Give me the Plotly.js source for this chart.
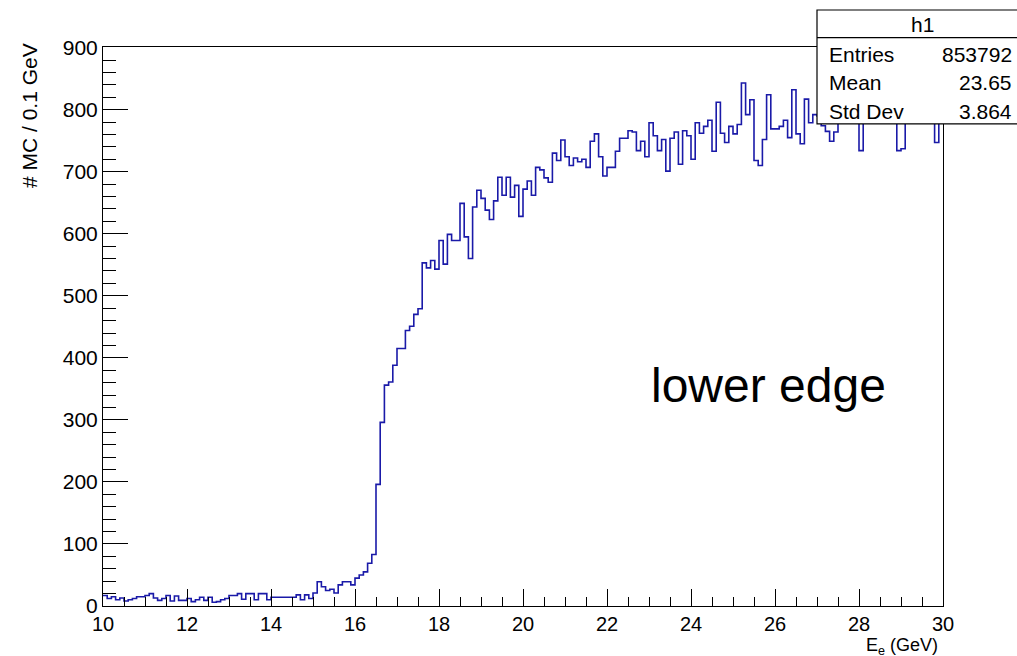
<!DOCTYPE html>
<html>
<head>
<meta charset="utf-8">
<script src="https://cdn.plot.ly/plotly-3.0.1.min.js"></script>
<style>html,body{margin:0;padding:0;background:#fff;}#chart{width:1017px;height:656px;}</style>
</head>
<body>
<div id="chart"></div>
<script>
// Histogram h1: 200 bins of 0.1 GeV from 10 to 30 GeV
const binStart = 10;
const binWidth = 0.1;
const counts = [
  17,12,15,10,13,8,10,12,15,15,
  17,20,13,9,12,17,8,16,9,9,
  12,7,10,14,9,14,6,7,10,12,
  17,17,20,11,20,20,10,20,20,10,
  14,14,14,14,14,14,18,10,18,12,
  21,39,31,25,27,21,34,39,39,34,
  45,50,55,69,83,196,296,356,361,388,
  415,415,444,451,470,479,553,545,557,543,
  589,551,599,589,589,649,595,560,643,670,
  657,638,623,653,691,662,691,659,678,628,
  672,685,662,707,703,690,683,730,718,751,
  724,710,722,716,720,707,749,761,724,693,
  707,707,733,754,754,766,764,734,749,724,
  779,758,734,752,701,754,764,712,766,758,
  720,779,762,773,783,733,812,762,747,773,
  761,776,843,792,816,718,710,752,824,769,
  769,773,783,755,832,761,745,817,779,792,
  790,774,765,749,764,800,785,810,795,780,
  734,790,805,780,815,795,800,785,810,734,
  737,790,800,812,795,785,805,790,747,800
];
const xTickVals = [10,12,14,16,18,20,22,24,26,28,30];
const yTickVals = [0,100,200,300,400,500,600,700,800,900];
const statsName = "h1";
const statsLabels = ["Entries","Mean","Std Dev"];
const statsValues = ["853792","23.65","3.864"];
const xTitle = "E<sub>e</sub> (GeV)";
const yTitle = "# MC / 0.1 GeV";
const noteText = "lower edge";

// step outline: edges with last value repeated
const edges = [];
const ys = [];
for (let i = 0; i < counts.length; i++) {
  edges.push(+(binStart + i * binWidth).toFixed(4));
  ys.push(counts[i]);
}
edges.push(+(binStart + counts.length * binWidth).toFixed(4));
ys.push(counts[counts.length - 1]);

const font = "Liberation Sans, Arial, Helvetica, sans-serif";
const fs = 21;

const trace = {
  x: edges, y: ys, type: 'scatter', mode: 'lines',
  line: {shape: 'hv', color: '#1a1aa8', width: 1.6},
  hoverinfo: 'skip'
};

const rowY = [0.9857, 0.9356, 0.8855];
const annotations = [
  {text: statsName, x: 0.975, y: 1.041, xref: 'paper', yref: 'paper', showarrow: false,
   xanchor: 'center', yanchor: 'middle', font: {family: font, size: fs, color: '#000'}},
  {text: noteText, x: 0.7917, y: 0.395, xref: 'paper', yref: 'paper', showarrow: false,
   xanchor: 'center', yanchor: 'middle', font: {family: font, size: 48, color: '#000'}},
  {text: xTitle, x: 0.9965, y: -0.0728, xref: 'paper', yref: 'paper', showarrow: false,
   xanchor: 'right', yanchor: 'middle', font: {family: font, size: 18, color: '#000'}},
  {text: yTitle, x: -0.0869, y: 0.8766, xref: 'paper', yref: 'paper', showarrow: false,
   textangle: -90, xanchor: 'center', yanchor: 'middle', font: {family: font, size: fs, color: '#000'}}
];
statsLabels.forEach((lab, i) => {
  annotations.push({text: lab, x: 0.8619, y: rowY[i], xref: 'paper', yref: 'paper', showarrow: false,
    xanchor: 'left', yanchor: 'middle', font: {family: font, size: fs, color: '#000'}});
  annotations.push({text: statsValues[i], x: 1.0845, y: rowY[i], xref: 'paper', yref: 'paper', showarrow: false,
    xanchor: 'right', yanchor: 'middle', font: {family: font, size: fs, color: '#000'}});
});

const layout = {
  width: 1017, height: 656,
  margin: {l: 103, r: 74, t: 47, b: 50},
  paper_bgcolor: '#fff', plot_bgcolor: '#fff',
  showlegend: false,
  font: {family: font, size: fs, color: '#000'},
  xaxis: {
    range: [10, 30], tickvals: xTickVals, ticks: 'inside', ticklen: 17, tickwidth: 1,
    tickcolor: '#000', showgrid: false, zeroline: false, showline: true, linecolor: '#000',
    linewidth: 1, mirror: true,
    minor: {ticks: 'inside', ticklen: 9, tickwidth: 1, tickcolor: '#000', dtick: 0.5, tick0: 10, showgrid: false},
    tickfont: {family: font, size: 20, color: '#000'}
  },
  yaxis: {
    range: [0, 901], tickvals: yTickVals, ticks: 'inside', ticklen: 25, tickwidth: 1,
    tickcolor: '#000', showgrid: false, zeroline: false, showline: true, linecolor: '#000',
    linewidth: 1, mirror: true,
    minor: {ticks: 'inside', ticklen: 12.5, tickwidth: 1, tickcolor: '#000', dtick: 20, tick0: 0, showgrid: false},
    tickfont: {family: font, size: fs, color: '#000'}
  },
  shapes: [
    {type: 'rect', xref: 'paper', yref: 'paper', x0: 0.85, x1: 1.095, y0: 0.8623, y1: 1.0662,
     fillcolor: '#fff', line: {color: '#000', width: 1.2}, layer: 'above'},
    {type: 'line', xref: 'paper', yref: 'paper', x0: 0.85, x1: 1.095, y0: 1.0167, y1: 1.0167,
     line: {color: '#000', width: 1.2}, layer: 'above'}
  ],
  annotations: annotations
};

Plotly.newPlot('chart', [trace], layout, {displayModeBar: false, staticPlot: true});
</script>
</body>
</html>
